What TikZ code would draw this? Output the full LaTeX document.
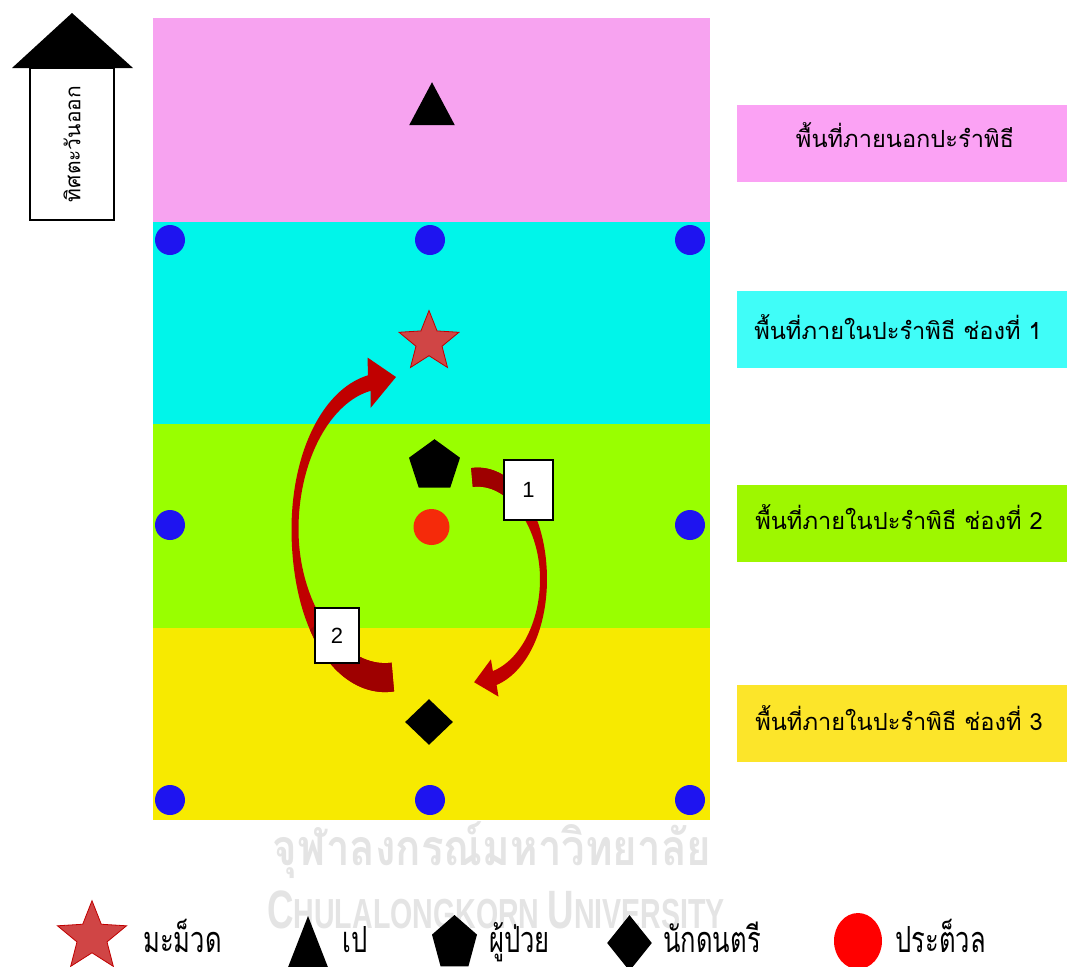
\documentclass[tikz,border=0pt]{standalone}
\usepackage{fontspec}
\newfontfamily\thai[Script=Thai]{Loma}
\setmainfont{Liberation Sans}
\usetikzlibrary{shapes.geometric}
\definecolor{bandpink}{HTML}{F7A3F0}
\definecolor{bandcyan}{HTML}{00F5EA}
\definecolor{bandgreen}{HTML}{99FF00}
\definecolor{bandyellow}{HTML}{F7EA00}
\definecolor{lblpink}{HTML}{FBA2F4}
\definecolor{lblcyan}{HTML}{40FDF8}
\definecolor{lblgreen}{HTML}{9EF700}
\definecolor{lblyellow}{HTML}{FCE52A}
\definecolor{dotblue}{HTML}{1E14F0}
\definecolor{dotred}{HTML}{F52A0A}
\definecolor{arrowred}{HTML}{C00000}
\definecolor{arrowdark}{HTML}{9E0000}
\definecolor{starred}{HTML}{D04545}
\definecolor{wmark}{HTML}{E4E4E4}
\tikzset{
  bluedot/.style={circle,fill=dotblue,inner sep=0pt,minimum size=15pt},
  lblbox/.style={rectangle,inner sep=0pt,minimum width=165pt,minimum height=38.5pt},
  lbltext/.style={font=\thai\fontsize{11.8}{13}\selectfont,inner sep=0pt},
  numbox/.style={rectangle,draw=black,line width=0.8pt,fill=white,inner sep=0pt,font=\fontsize{11}{13}\selectfont},
  blackshape/.style={fill=black,inner sep=0pt},
  legtext/.style={font=\thai\fontsize{18}{21}\selectfont,inner sep=0pt,anchor=base west},
  wmtext/.style={text=wmark,inner sep=0pt}
}
\newcommand{\legword}[1]{\scalebox{0.71}[1]{#1}}
\begin{document}
\begin{tikzpicture}[x=0.5pt,y=-0.5pt]
\useasboundingbox (0,0) rectangle (1067,966);
\fill[white] (0,0) rectangle (1067,966);
% bands
\fill[bandpink] (153,18) rectangle (710,222);
\fill[bandcyan] (153,222) rectangle (710,424);
\fill[bandgreen] (153,424) rectangle (710,628);
\fill[bandyellow] (153,628) rectangle (710,820);
% east arrow
\coordinate (ahl) at (12,68);
\coordinate (ahr) at (133,68);
\coordinate (aht) at (72,13);
\fill[black] (ahl) -- (aht) -- (ahr) -- cycle;
\node[draw=black,line width=1pt,fill=white,minimum width=42pt,minimum height=76pt,inner sep=0pt] (dirbox) at (72,144) {};
\node[rotate=90,font=\thai\fontsize{10.5}{12}\selectfont,inner sep=0pt] (dirtext) at (dirbox.center) {ทิศตะวันออก};
% labels
\node[lblbox,fill=lblpink] (l0) at (902,143.5) {};
\node[lbltext] (t0) at (905,135) {พื้นที่ภายนอกปะรำพิธี};
\node[lblbox,fill=lblcyan] (l1) at (902,329.5) {};
\node[lbltext] (t1) at (898,327) {พื้นที่ภายในปะรำพิธี ช่องที่ 1};
\node[lblbox,fill=lblgreen] (l2) at (902,523.5) {};
\node[lbltext] (t2) at (899,517) {พื้นที่ภายในปะรำพิธี ช่องที่ 2};
\node[lblbox,fill=lblyellow] (l3) at (902,723.5) {};
\node[lbltext] (t3) at (899,718) {พื้นที่ภายในปะรำพิธี ช่องที่ 3};
% blue dots
\node[bluedot] (b1) at (170,240) {};
\node[bluedot] (b2) at (430,240) {};
\node[bluedot] (b3) at (690,240) {};
\node[bluedot] (b4) at (170,525) {};
\node[bluedot] (b5) at (690,525) {};
\node[bluedot] (b6) at (170,800) {};
\node[bluedot] (b7) at (430,800) {};
\node[bluedot] (b8) at (690,800) {};
% figures
\node[blackshape,isosceles triangle,isosceles triangle apex angle=56,shape border rotate=90,minimum height=21.5pt] (pe) at (432,111.5) {};
\node[star,star points=5,star point ratio=2.3,fill=starred,draw=arrowred,line width=0.4pt,inner sep=0pt,minimum size=31.5pt] (mamuad) at (429,342) {};
\node[blackshape,regular polygon,regular polygon sides=5,minimum size=26.8pt] (patient) at (434.5,466) {};
\node[circle,fill=dotred,inner sep=0pt,minimum size=18pt] (praduan) at (431.5,527) {};
\node[blackshape,diamond,minimum width=24pt,minimum height=23pt] (musician) at (429,722) {};
% curved arrow 1 (patient -> musician)
\fill[arrowred] plot[domain=95:-75,samples=80,variable=\t] ({477.7+(65.8+(7+(\t>0?12:8)*sin(\t)*sin(\t))/2)*cos(\t)},{579.3-(102.2+(7+(\t>0?12:8)*sin(\t)*sin(\t))/2)*sin(\t)})
  -- (498.5,696.6) -- (474.1,682.2) -- (490.9,659.4)
  -- plot[domain=-75:95,samples=80,variable=\t] ({477.7+(65.8-(7+(\t>0?12:8)*sin(\t)*sin(\t))/2)*cos(\t)},{579.3-(102.2-(7+(\t>0?12:8)*sin(\t)*sin(\t))/2)*sin(\t)}) -- cycle;
\fill[arrowdark] plot[domain=95:55,samples=30,variable=\t] ({477.7+(65.8+(7+12*sin(\t)*sin(\t))/2)*cos(\t)},{579.3-(102.2+(7+12*sin(\t)*sin(\t))/2)*sin(\t)})
  -- plot[domain=55:95,samples=30,variable=\t] ({477.7+(65.8-(7+12*sin(\t)*sin(\t))/2)*cos(\t)},{579.3-(102.2-(7+12*sin(\t)*sin(\t))/2)*sin(\t)}) -- cycle;
% curved arrow 2 (musician -> mamuad)
\fill[arrowred] plot[domain=-85:-260,samples=80,variable=\t] ({385+(90+(7+(\t>-180?22:9)*sin(\t)*sin(\t))/2)*cos(\t)},{529.2-(148.4+(7+(\t>-180?22:9)*sin(\t)*sin(\t))/2)*sin(\t)})
  -- (367.5,357.5) -- (396,377) -- (370.5,408)
  -- plot[domain=-260:-85,samples=80,variable=\t] ({385+(90-(7+(\t>-180?22:9)*sin(\t)*sin(\t))/2)*cos(\t)},{529.2-(148.4-(7+(\t>-180?22:9)*sin(\t)*sin(\t))/2)*sin(\t)}) -- cycle;
\fill[arrowdark] plot[domain=-85:-140,samples=30,variable=\t] ({385+(90+(7+22*sin(\t)*sin(\t))/2)*cos(\t)},{529.2-(148.4+(7+22*sin(\t)*sin(\t))/2)*sin(\t)})
  -- plot[domain=-140:-85,samples=30,variable=\t] ({385+(90-(7+22*sin(\t)*sin(\t))/2)*cos(\t)},{529.2-(148.4-(7+22*sin(\t)*sin(\t))/2)*sin(\t)}) -- cycle;
\node[numbox,minimum width=24.5pt,minimum height=30pt] (n1) at (528.5,490) {1};
\node[numbox,minimum width=22pt,minimum height=27.5pt] (n2) at (337,635.5) {2};
% watermark
\node[wmtext,font=\thai\bfseries\fontsize{25}{30}\selectfont] (wm1) at (492,850) {\scalebox{0.84}[1]{จุฬาลงกรณ์มหาวิทยาลัย}};
\node[wmtext,font=\bfseries\fontsize{27}{32}\selectfont,anchor=base] (wm2) at (496,928) {\scalebox{0.68}[1]{C\fontsize{21}{26}\selectfont HULALONGKORN \fontsize{27}{32}\selectfont U\fontsize{21}{26}\selectfont NIVERSITY}};
% legend
\node[star,star points=5,star point ratio=2.3,fill=starred,draw=arrowred,line width=0.4pt,inner sep=0pt,minimum size=36.3pt] (lgstar) at (92,937) {};
\node[legtext] (lgt1) at (143,952) {\legword{มะม็วด}};
\fill[black] (308,916) -- (331,975) -- (285,975) -- cycle;
\node[legtext] (lgt2) at (342,952) {\legword{เป}};
\fill[black] (454.5,915) -- (477,934.6) -- (468.4,966.4) -- (440.6,966.4) -- (432,934.6) -- cycle;
\node[legtext] (lgt3) at (489,952) {\legword{ผู้ป่วย}};
\node[blackshape,diamond,minimum width=22.5pt,minimum height=28pt] (lgdia) at (629.5,943) {};
\node[legtext] (lgt4) at (663,952) {\legword{นักดนตรี}};
\node[ellipse,fill=red,inner sep=0pt,minimum width=24pt,minimum height=28pt] (lgdot) at (858,941) {};
\node[legtext] (lgt5) at (895,952) {\legword{ประต็วล}};
\end{tikzpicture}
\end{document}
